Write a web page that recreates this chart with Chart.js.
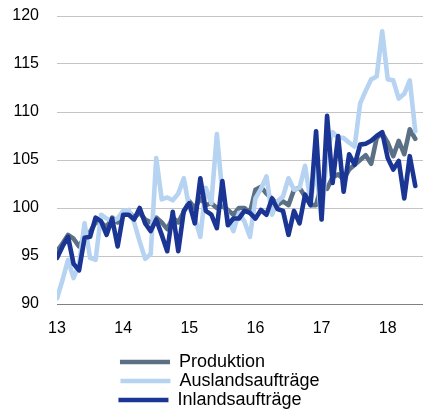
<!DOCTYPE html>
<html>
<head>
<meta charset="utf-8">
<script src="https://cdn.jsdelivr.net/npm/chart.js@4.4.0/dist/chart.umd.min.js"></script>
<style>
html,body{margin:0;padding:0;background:#fff;}
#wrap{width:423px;height:410px;}
</style>
</head>
<body>
<div id="wrap"><canvas id="c" width="423" height="410"></canvas></div>
<script>
// Year tick labels (one every 12 months, starting Jan 2013)
const yearLabels = ['13', '14', '15', '16', '17', '18'];
const seriesNames = ['Produktion', 'Auslandsaufträge', 'Inlandsaufträge'];

// Monthly index values, Jan 2013 .. Jun 2018
const produktion = [
  95.5, 96.3, 97.2, 96.8, 96.0, 97.0, 97.5, 98.5, 98.5, 98.0, 99.0, 98.5,
  99.3, 99.6, 99.0, 99.5, 98.8, 98.5, 99.0, 98.5, 97.8, 99.0, 98.5, 99.6,
  100.7, 100.0, 101.0, 100.3, 100.5, 100.0, 100.2, 99.8, 99.3, 100.0, 100.0, 99.5,
  101.9, 102.2, 101.5, 101.0, 100.3, 100.7, 100.3, 101.9, 102.1, 101.2, 100.3, 100.3,
  102.5, 102.0, 103.2, 103.5, 103.0, 104.0, 104.5, 105.0, 105.5, 104.6, 107.3, 107.8,
  106.8, 105.4, 107.0, 105.6, 108.2, 107.2
];
const auslandsauftraege = [
  90.6, 92.5, 94.6, 92.7, 94.1, 98.4, 94.8, 94.6, 99.3, 98.9, 98.6, 98.9,
  99.7, 99.8, 98.5, 96.5, 94.7, 95.2, 105.2, 100.9, 101.1, 100.8, 101.5, 103.1,
  100.0, 99.0, 97.0, 102.1, 100.5, 107.7, 101.5, 99.0, 97.6, 99.5, 98.6, 97.0,
  101.0, 102.0, 103.3, 99.3, 100.7, 101.2, 103.1, 101.9, 102.1, 104.4, 100.7, 104.2,
  98.8, 106.0, 107.9, 107.3, 107.3, 106.8, 106.4, 110.9, 112.2, 113.4, 113.7, 118.4,
  113.4, 113.3, 111.4, 111.9, 113.3, 108.0
];
const inlandsauftraege = [
  94.8, 96.0, 97.0, 94.2, 93.5, 96.9, 97.0, 99.0, 98.6, 97.2, 98.9, 96.0,
  99.3, 99.3, 98.8, 100.0, 98.4, 97.6, 98.8, 97.2, 95.5, 99.6, 95.5, 99.7,
  100.5, 98.4, 103.1, 99.7, 99.3, 97.9, 102.8, 98.2, 98.9, 98.9, 99.7, 99.5,
  98.9, 99.8, 99.3, 101.0, 99.9, 99.7, 97.2, 99.7, 98.4, 101.4, 100.3, 108.0,
  98.8, 109.6, 102.6, 107.5, 101.7, 105.6, 104.5, 106.6, 106.7, 107.0, 107.5, 107.9,
  105.2, 104.0, 104.9, 101.0, 105.4, 102.3
];

const colors = ['#5b7084', '#b6d3f1', '#1b3594'];
const FONT = '"Liberation Sans", Arial, sans-serif';
Chart.defaults.font.family = FONT;
Chart.defaults.color = '#000';

const toXY = arr => arr.map((v, i) => ({x: i, y: v}));
const yearTickPos = yearLabels.map((_, i) => i * 12);

function mk(idx, data, order) {
  return {
    label: seriesNames[idx],
    data: toXY(data),
    borderColor: colors[idx],
    backgroundColor: colors[idx],
    borderWidth: 4.6,
    borderCapStyle: 'round',
    borderJoinStyle: 'round',
    pointRadius: 0,
    tension: 0,
    order: order
  };
}

new Chart(document.getElementById('c'), {
  type: 'line',
  data: {
    datasets: [
      mk(0, produktion, 3),
      mk(1, auslandsauftraege, 2),
      mk(2, inlandsauftraege, 1)
    ]
  },
  options: {
    responsive: false,
    animation: false,
    layout: {padding: {top: 16, left: 0, right: 0, bottom: 0}},
    plugins: {
      tooltip: {enabled: false},
      legend: {
        position: 'bottom',
        fullSize: false,
        maxHeight: 58,
        labels: {
          usePointStyle: true,
          pointStyle: 'line',
          pointStyleWidth: 50,
          padding: 1,
          font: {size: 18, family: FONT},
          color: '#000',
          generateLabels(chart) {
            const items = Chart.defaults.plugins.legend.labels.generateLabels(chart);
            const ctx = chart.ctx;
            ctx.save();
            ctx.font = '18px ' + FONT;
            items.forEach(it => {
              let t = it.text;
              while (Math.abs(ctx.measureText(t + ' ').width - 182) < Math.abs(ctx.measureText(t).width - 182)) t += ' ';
              it.text = t;
            });
            ctx.restore();
            items.sort((a, b) => a.datasetIndex - b.datasetIndex);
            return items;
          }
        }
      }
    },
    scales: {
      x: {
        type: 'linear',
        min: 0,
        max: 66.4,
        grid: {display: false},
        border: {display: false},
        afterBuildTicks(scale) { scale.ticks = yearTickPos.map(v => ({value: v})); },
        afterFit(scale) { scale.height = 48; },
        ticks: {
          autoSkip: false,
          maxRotation: 0,
          padding: 7,
          font: {size: 16},
          color: '#000',
          callback: v => yearLabels[yearTickPos.indexOf(v)]
        }
      },
      y: {
        min: 90,
        max: 120,
        afterFit(scale) { scale.width = 57; },
        grid: {
          drawTicks: true,
          tickLength: 18,
          tickColor: 'rgba(0,0,0,0)',
          color: c => (c.tick && c.tick.value === 90) ? '#808080' : '#c4c4c4',
          lineWidth: 1
        },
        border: {display: false},
        ticks: {stepSize: 5, padding: 0, font: {size: 16}, color: '#000'}
      }
    }
  }
});
</script>
</body>
</html>
